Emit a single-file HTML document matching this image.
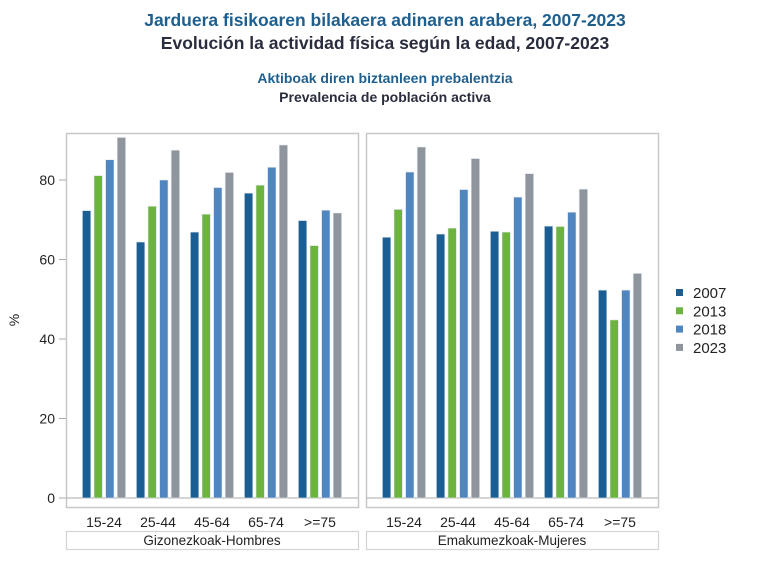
<!DOCTYPE html>
<html><head><meta charset="utf-8">
<style>
html,body{margin:0;padding:0;background:#fff;}
svg{display:block;font-family:"Liberation Sans",Arial,sans-serif;}
</style></head>
<body>
<svg id="chart" width="770" height="570" viewBox="0 0 770 570" xmlns="http://www.w3.org/2000/svg">
<text x="385" y="26" text-anchor="middle" font-size="17.5" font-weight="bold" fill="#1f5f8e">Jarduera fisikoaren bilakaera adinaren arabera, 2007-2023</text>
<text x="385" y="49" text-anchor="middle" font-size="17.5" font-weight="bold" fill="#2a2d3e">Evolución la actividad física según la edad, 2007-2023</text>
<text x="385" y="83" text-anchor="middle" font-size="14" font-weight="bold" fill="#1f5f8e">Aktiboak diren biztanleen prebalentzia</text>
<text x="385" y="102" text-anchor="middle" font-size="14" font-weight="bold" fill="#2a2d3e">Prevalencia de población activa</text>
<text x="19" y="320" text-anchor="middle" font-size="14" fill="#222" transform="rotate(-90 19 320)">%</text>
<g id="plot"></g>
<g id="legend"></g>
</svg>
<script>
const categories = ["15-24","25-44","45-64","65-74",">=75"];
const panels = ["Gizonezkoak-Hombres","Emakumezkoak-Mujeres"];
const years = ["2007","2013","2018","2023"];
const colors = ["#1a5e93","#6db33f","#4f86c0","#8e959c"];
const men2007 = [72.3,64.4,66.9,76.7,69.8];
const men2013 = [81.1,73.4,71.4,78.7,63.5];
const men2018 = [85.1,80.0,78.1,83.2,72.4];
const men2023 = [90.7,87.5,81.9,88.8,71.7];
const women2007 = [65.6,66.4,67.1,68.4,52.3];
const women2013 = [72.6,67.9,66.9,68.3,44.8];
const women2018 = [82.0,77.6,75.7,71.9,52.3];
const women2023 = [88.3,85.4,81.6,77.7,56.5];
const yTicks = [0,20,40,60,80];

const series = [[men2007,men2013,men2018,men2023],[women2007,women2013,women2018,women2023]];
const NS = "http://www.w3.org/2000/svg";
const plot = document.getElementById("plot");
function mk(tag, attrs, parent){const e=document.createElementNS(NS,tag);for(const k in attrs)e.setAttribute(k,attrs[k]);(parent||plot).appendChild(e);return e;}
const yScale = v => 498 - v*3.975;
const panelX = [66,366], panelW = 292, pTop = 133, pBottom = 507;
const groupX = (p,i) => panelX[p] + 38 + i*54;
const barOff = [-17.4,-5.8,5.8,17.4], barW = 8.4;

yTicks.forEach(t=>{
  const l = mk("line",{x1:59,x2:66,y1:yScale(t),y2:yScale(t),stroke:"#aaa","stroke-width":1});
  
  
  const tx = mk("text",{x:55,y:yScale(t)+5,"text-anchor":"end","font-size":14,fill:"#222"});
  tx.textContent = t;
  
  
});

panels.forEach((pn,p)=>{
  const fr = mk("rect",{x:panelX[p]+0.5,y:pTop+0.5,width:panelW,height:pBottom-pTop,fill:"none",stroke:"#c8c8c8","stroke-width":1.5});
  
  
  const bl = mk("line",{x1:panelX[p],x2:panelX[p]+panelW,y1:yScale(0),y2:yScale(0),stroke:"#bbb","stroke-width":1.2});
  
  
  categories.forEach((c,i)=>{
    series[p].forEach((s,k)=>{
      const b = mk("rect",{x:groupX(p,i)+barOff[k]-barW/2,y:yScale(s[i]),width:barW,height:yScale(0)-yScale(s[i]),fill:colors[k],stroke:"#e4e8ee","stroke-width":0.6});
      
      
    });
    const lab = mk("text",{x:groupX(p,i),y:527,"text-anchor":"middle","font-size":14,fill:"#222"});
    lab.textContent = c;
    
    
  });
  const st = mk("rect",{x:panelX[p]+0.5,y:531.5,width:panelW,height:18,fill:"#fff",stroke:"#d4d4d4","stroke-width":1.2});
  
  
  const stt = mk("text",{x:panelX[p]+panelW/2,y:545,"text-anchor":"middle","font-size":13.5,fill:"#222"});
  stt.textContent = pn;
  
  
});

const lg = document.getElementById("legend");
years.forEach((yr,k)=>{
  const cy = 292.5 + k*18.3;
  const r = mk("rect",{x:676,y:cy-3.5,width:7,height:7,fill:colors[k]},lg);
  
  
  const t = mk("text",{x:693,y:cy+5.5,"font-size":15,fill:"#222"},lg);
  t.textContent = yr;
  
  
});
</script>
</body></html>
